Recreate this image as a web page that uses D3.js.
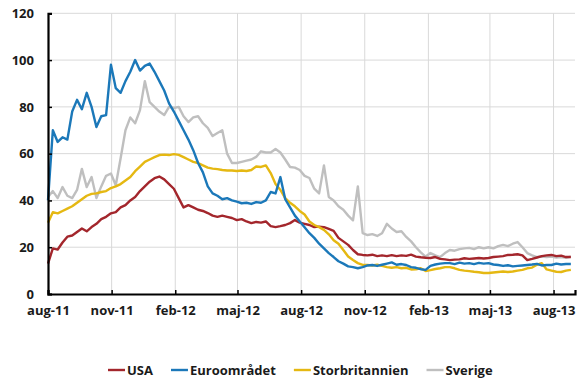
<!DOCTYPE html>
<html><head><meta charset="utf-8">
<script src="https://cdn.jsdelivr.net/npm/d3@7"></script>
<style>
html,body{margin:0;padding:0;background:#fff;}
text{font-family:"Open Sans",sans-serif;font-weight:700;fill:#1a1a1a;}
</style></head>
<body><svg id="chart" width="578" height="381"></svg>
<script>
// Weekly observations starting 2011-08-01
const startDate = "2011-08-01";
const stepDays = 7;
const seriesNames = ["USA", "Euroområdet", "Storbritannien", "Sverige"];
const seriesColors = ["#A3262C", "#1B78B9", "#E5B812", "#BFBFBF"];
const usa = [13,19.5,19,22,24.5,25,26.5,28,26.8,28.6,30,32,33,34.5,35,37,38,40,41.5,44,46,48,49.5,50.2,49,47,45,41,37,38,37,36,35.5,34.6,33.5,33,33.5,33,32.5,31.6,32,31,30.3,30.8,30.5,31,29,28.6,29,29.5,30.3,31.6,30.5,30,29.5,28.6,28.8,28.6,27.8,27,24,22.5,21,18.8,17,16.7,16.5,16.8,16.2,16.5,16.2,16.6,16.2,16.5,16.3,16.8,16,15.7,15.5,15.4,15.8,15,14.8,14.5,14.7,14.8,15.3,15,15.2,15.4,15.2,15.4,15.8,16,16.2,16.7,16.8,17,16.5,14.5,15,15.6,16.2,16.5,16.7,16.2,16.4,15.8,15.8];
const euro = [40,70,65,67,66,78,83,79,86,80,71.4,76,76.5,98,88,86,91,95,100,95.5,97.5,98.5,95,91,87,81.5,78,74,70,66,61.5,56,52,46,43,42,40.5,41,40,39.5,38.8,39,38.5,39.3,39,40,43.6,43,50,40.5,37,33.5,31,28.5,26,24,21.5,19.5,17.5,15.8,14,13,11.8,11.5,11,11.5,12.2,12.4,12,12.5,13,13.5,12.5,12.8,12.4,11.5,11.2,10.6,10.3,12,12.6,13,13.2,13.2,12.8,13.4,13,13.2,12.8,13.3,13,13.2,12.6,12.4,12,12.3,11.8,12,12.2,12.4,12.6,12.9,12.2,12.4,12.4,13,12.6,12.8,12.8];
const uk = [30.5,35,34.5,35.5,36.5,37.5,39,40.5,42,42.8,43,43.6,44,45.3,46,47,48.5,50,52.5,54.5,56.5,57.5,58.5,59.4,59.6,59.4,59.8,59.5,58.5,57.5,56.5,56,55,54,53.6,53.4,53,52.8,52.8,52.6,52.8,52.6,53,54.5,54.3,55,51.7,47,44.5,41,39,37.5,35.5,34,31,29.5,28.6,27.4,25.5,23,21.5,18.8,16,14.5,13.2,12.4,12.4,12.2,12.5,12,11.5,11.2,11.5,11,11.2,10.5,10.6,11,9.8,10.2,10.7,11,11.5,11.5,11,10.3,10,9.8,9.5,9.3,9,9,9.2,9.4,9.6,9.4,9.6,10,10.3,11,11.3,12.5,13.2,10.5,10,9.5,9.4,10,10.3];
const sverige = [41.5,44,41,45.7,42,41,44.5,53.5,45.7,50,41,46,50.5,51.5,46.5,58,70,75.5,73,78.6,91,82,80,78,76.5,80,79.5,80,76,73.5,75.5,76,73,71,67.5,68.8,70,60,56,56,56.5,57,57.5,58.6,61,60.5,60.5,62,60.5,57.5,54.3,54,53,50.5,49.6,45,43,55,41.5,40,37.5,36,33.5,31.5,46,26,25.2,25.6,24.8,26,30,28,26.5,26.8,24.4,22.5,20,17.8,16,17.5,16.5,15.8,17.5,18.8,18.5,19.2,19.5,19.7,19.2,20,19.5,20,19.5,20.5,21,20.5,21.5,22.2,20,17.5,16.5,15.8,16,15.8,16,15.6,15.8,15.5,16];
const yTicks = [0,20,40,60,80,100,120];
const xTickDates = ["2011-08-01","2011-11-01","2012-02-01","2012-05-01","2012-08-01","2012-11-01","2013-02-01","2013-05-01","2013-08-01"];
const monthNames = ["jan","feb","mar","apr","maj","jun","jul","aug","sep","okt","nov","dec"];

(function () {
const parse = d3.utcParse("%Y-%m-%d");
const t0 = parse(startDate);
const dates = usa.map((_, i) => d3.utcDay.offset(t0, i * stepDays));
const allSeries = [usa, euro, uk, sverige];

const svg = d3.select("#chart");
const pL = 48, pR = 575, pT = 13.3, pB = 294;
const x = d3.scaleUtc().domain([parse("2011-08-01"), parse("2013-09-01")]).range([pL, pR]);
const y = d3.scaleLinear().domain([0, 120]).range([pB, pT]);

// grid
const grid = svg.append("g");
grid.selectAll(".hg").data(yTicks.filter(v => v > 0)).join("line")
  .attr("x1", pL).attr("x2", pR).attr("y1", d => y(d)).attr("y2", d => y(d))
  .attr("stroke", "#d9d9d9").attr("stroke-width", 1);
grid.selectAll(".vg").data(xTickDates.slice(1).map(parse)).join("line")
  .attr("x1", d => x(d)).attr("x2", d => x(d)).attr("y1", pT).attr("y2", pB)
  .attr("stroke", "#d9d9d9").attr("stroke-width", 1);

// lines
const line = d3.line().x((d, i) => x(dates[i])).y(d => y(d));
svg.append("g").selectAll("path").data([sverige, usa, uk, euro]).join("path")
  .attr("d", d => line(d)).attr("fill", "none")
  .attr("stroke", d => seriesColors[allSeries.indexOf(d)])
  .attr("stroke-width", 2.4).attr("stroke-linejoin", "round");

// axes
const yAxis = d3.axisLeft(y).tickValues(yTicks).tickSize(-4).tickPadding(14);
const gy = svg.append("g").attr("transform", `translate(${pL},0)`).call(yAxis);
gy.select(".domain").attr("stroke", "#000").attr("stroke-width", 2.2);
gy.selectAll(".tick line").attr("stroke", "#000").attr("stroke-width", 1.5);
gy.selectAll("text").attr("font-size", 13).attr("fill", "#1a1a1a").attr("font-family", "Open Sans").attr("font-weight", 700);

const fmt = d => monthNames[d.getUTCMonth()] + "-" + String(d.getUTCFullYear()).slice(2);
const xAxis = d3.axisBottom(x).tickValues(xTickDates.map(parse)).tickFormat(fmt).tickSize(-4).tickPadding(12);
const gx = svg.append("g").attr("transform", `translate(0,${pB})`).call(xAxis);
gx.select(".domain").attr("stroke", "#000").attr("stroke-width", 2.2);
gx.selectAll(".tick line").attr("stroke", "#000").attr("stroke-width", 1.5);
gx.selectAll("text").attr("font-size", 13).attr("fill", "#1a1a1a").attr("font-family", "Open Sans").attr("font-weight", 700);

// legend
const lg = svg.append("g").attr("transform", "translate(0,370)");
let lx = 108;
seriesNames.forEach((name, i) => {
  lg.append("line").attr("x1", lx).attr("x2", lx + 17).attr("y1", 0).attr("y2", 0)
    .attr("stroke", seriesColors[i]).attr("stroke-width", 2.4);
  const t = lg.append("text").attr("x", lx + 19).attr("y", 0).attr("dy", "0.35em")
    .attr("font-size", 13).text(name);
  lx += 19 + t.node().getComputedTextLength() + 18;
});
})();
</script></body></html>
